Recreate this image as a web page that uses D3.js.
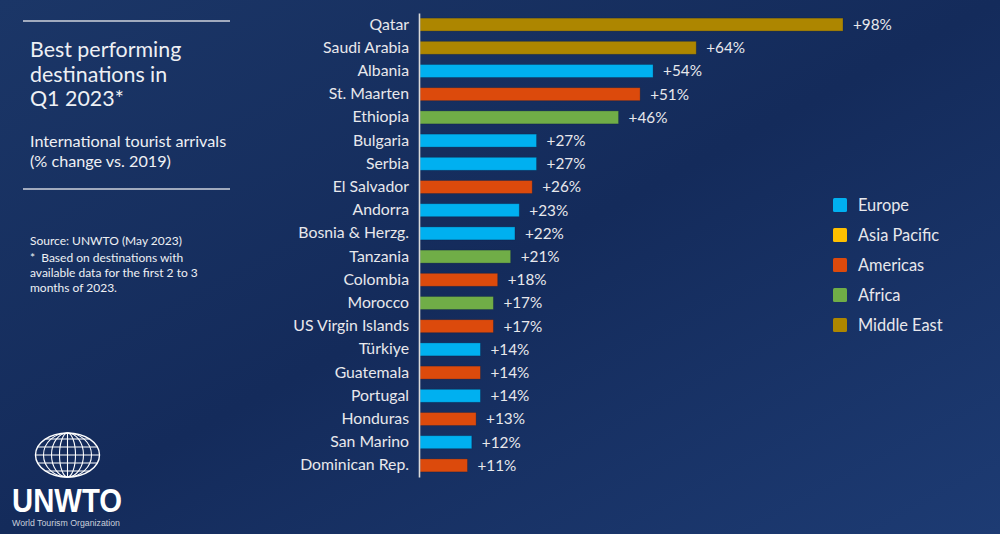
<!DOCTYPE html>
<html>
<head>
<meta charset="utf-8">
<script src="https://cdn.jsdelivr.net/npm/d3@7"></script>
<style>
  html, body { margin: 0; padding: 0; background: #17305f; }
  svg { display: block; font-family: Lato, "Open Sans", sans-serif; }
</style>
</head>
<body>
<div id="chart"></div>
<script>
// data
const countries = ["Qatar", "Saudi Arabia", "Albania", "St. Maarten", "Ethiopia", "Bulgaria", "Serbia",
  "El Salvador", "Andorra", "Bosnia & Herzg.", "Tanzania", "Colombia", "Morocco", "US Virgin Islands",
  "Türkiye", "Guatemala", "Portugal", "Honduras", "San Marino", "Dominican Rep."]
const changes = [98, 64, 54, 51, 46, 27, 27, 26, 23, 22, 21, 18, 17, 17, 14, 14, 14, 13, 12, 11]
const regionOf = ["Middle East", "Middle East", "Europe", "Americas", "Africa", "Europe", "Europe",
  "Americas", "Europe", "Europe", "Africa", "Americas", "Africa", "Americas",
  "Europe", "Americas", "Europe", "Americas", "Europe", "Americas"]
const regions = ["Europe", "Asia Pacific", "Americas", "Africa", "Middle East"]
const regionColors = ["#00b0f0", "#ffc000", "#dc4a0c", "#70ad47", "#ad8600"]

const W = 1000, H = 534

const svg = d3.select("#chart").append("svg")
  .attr("width", W)
  .attr("height", H)

// background
const defs = svg.append("defs")
const grad = defs.append("linearGradient")
  .attr("id", "bg")
  .attr("x1", "0%").attr("y1", "0%")
  .attr("x2", "100%").attr("y2", "100%")
grad.append("stop").attr("offset", "0%").attr("stop-color", "#1b3667")
grad.append("stop").attr("offset", "50%").attr("stop-color", "#142b5b")
grad.append("stop").attr("offset", "100%").attr("stop-color", "#1d3b73")
svg.append("rect").attr("width", W).attr("height", H).attr("fill", "url(#bg)")

const data = countries.map((c, i) => ({ country: c, value: changes[i], region: regionOf[i] }))

const color = d3.scaleOrdinal().domain(regions).range(regionColors)

const x = d3.scaleLinear().domain([0, 98]).range([420, 843])
const y = d3.scaleBand()
  .domain(countries)
  .range([13, 477])
  .paddingInner(0.44)
  .paddingOuter(0.22)

// bars
svg.append("g").selectAll("rect")
  .data(data)
  .enter().append("rect")
  .attr("x", x(0))
  .attr("y", d => y(d.country))
  .attr("width", d => x(d.value) - x(0))
  .attr("height", y.bandwidth())
  .attr("fill", d => color(d.region))
  .attr("stroke", "#0b1d40")
  .attr("stroke-opacity", 0.35)
  .attr("stroke-width", 0.8)

// category axis
const yAxis = svg.append("g")
  .attr("transform", "translate(419,0)")
  .call(d3.axisLeft(y).tickSize(0).tickPadding(10).tickSizeOuter(0))
yAxis.select(".domain")
  .attr("stroke", "#d9d9d9")
  .attr("stroke-width", 1.6)
yAxis.selectAll("text")
  .attr("fill", "#e8e8ec")
  .style("font-size", "15.8px")
  .style("font-family", "Lato, sans-serif")

// value labels
svg.append("g").selectAll("text")
  .data(data)
  .enter().append("text")
  .attr("x", d => x(d.value) + 10)
  .attr("y", d => y(d.country) + y.bandwidth() / 2)
  .attr("dy", "0.35em")
  .attr("fill", "#e8e8ec")
  .style("font-size", "15.3px")
  .text(d => "+" + d.value + "%")

// legend
const legend = svg.append("g").attr("transform", "translate(833,205)")
const li = legend.selectAll("g")
  .data(regions)
  .enter().append("g")
  .attr("transform", (d, i) => `translate(0,${i * 30})`)
li.append("rect")
  .attr("x", 0).attr("y", -7)
  .attr("width", 14).attr("height", 14)
  .attr("rx", 1.5)
  .attr("fill", d => color(d))
li.append("text")
  .attr("x", 25)
  .attr("dy", "0.35em")
  .attr("fill", "#e8e8ec")
  .style("font-size", "16.4px")
  .text(d => d)

// left panel
const panel = svg.append("g")
panel.append("line").attr("x1", 23).attr("x2", 230).attr("y1", 21).attr("y2", 21)
  .attr("stroke", "#cfd3dc").attr("stroke-width", 1.6)
panel.append("line").attr("x1", 23).attr("x2", 230).attr("y1", 189).attr("y2", 189)
  .attr("stroke", "#cfd3dc").attr("stroke-width", 1.6)

const titleLines = ["Best performing", "destinations in", "Q1 2023*"]
panel.selectAll(".title")
  .data(titleLines)
  .enter().append("text")
  .attr("class", "title")
  .attr("x", 30)
  .attr("y", (d, i) => 57 + i * 24.5)
  .attr("fill", "#eef0f4")
  .style("font-size", "21.4px")
  .text(d => d)

const subLines = ["International tourist arrivals", "(% change vs. 2019)"]
panel.selectAll(".sub")
  .data(subLines)
  .enter().append("text")
  .attr("class", "sub")
  .attr("x", 30)
  .attr("y", (d, i) => 147 + i * 20)
  .attr("fill", "#eef0f4")
  .style("font-size", "16.2px")
  .text(d => d)

const noteLines = ["Source: UNWTO (May 2023)", "*  Based on destinations with",
  "available data for the first 2 to 3", "months of 2023."]
panel.selectAll(".note")
  .data(noteLines)
  .enter().append("text")
  .attr("class", "note")
  .attr("x", 30)
  .attr("y", (d, i) => i === 0 ? 245 : 247 + i * 15)
  .attr("fill", "#eef0f4")
  .style("font-size", "12px")
  .style("white-space", "pre")
  .text(d => d)

// logo
const logo = svg.append("g").attr("transform", "translate(67.5,455)")
const gs = { fill: "none", stroke: "#ffffff", "stroke-width": 1.1 }
const globeRx = 32, globeRy = 22
logo.append("ellipse").attr("rx", globeRx).attr("ry", globeRy).attr("fill", "none")
  .attr("stroke", "#fff").attr("stroke-width", 1.4)
;[-16, -8, 0, 8, 16].forEach(py => {
  const half = globeRx * Math.sqrt(1 - (py * py) / (globeRy * globeRy))
  logo.append("line").attr("x1", -half).attr("x2", half).attr("y1", py).attr("y2", py)
    .attr("stroke", gs.stroke).attr("stroke-width", gs["stroke-width"])
})
;[24, 16, 8].forEach(rx => {
  logo.append("ellipse").attr("rx", rx).attr("ry", globeRy)
    .attr("fill", "none").attr("stroke", gs.stroke).attr("stroke-width", gs["stroke-width"])
})
logo.append("line").attr("x1", 0).attr("x2", 0).attr("y1", -globeRy).attr("y2", globeRy)
  .attr("stroke", gs.stroke).attr("stroke-width", gs["stroke-width"])

svg.append("text")
  .attr("x", 12).attr("y", 512)
  .attr("fill", "#fff")
  .attr("textLength", 110)
  .attr("lengthAdjust", "spacingAndGlyphs")
  .style("font-family", "'Liberation Sans Narrow', 'Liberation Sans', sans-serif")
  .style("font-weight", "bold")
  .style("font-size", "33px")
  .text("UNWTO")
svg.append("text")
  .attr("x", 12).attr("y", 526)
  .attr("fill", "#c9cfdb")
  .attr("textLength", 108)
  .attr("lengthAdjust", "spacingAndGlyphs")
  .style("font-family", "'Liberation Sans', sans-serif")
  .style("font-size", "8.5px")
  .text("World Tourism Organization")
</script>
</body>
</html>
